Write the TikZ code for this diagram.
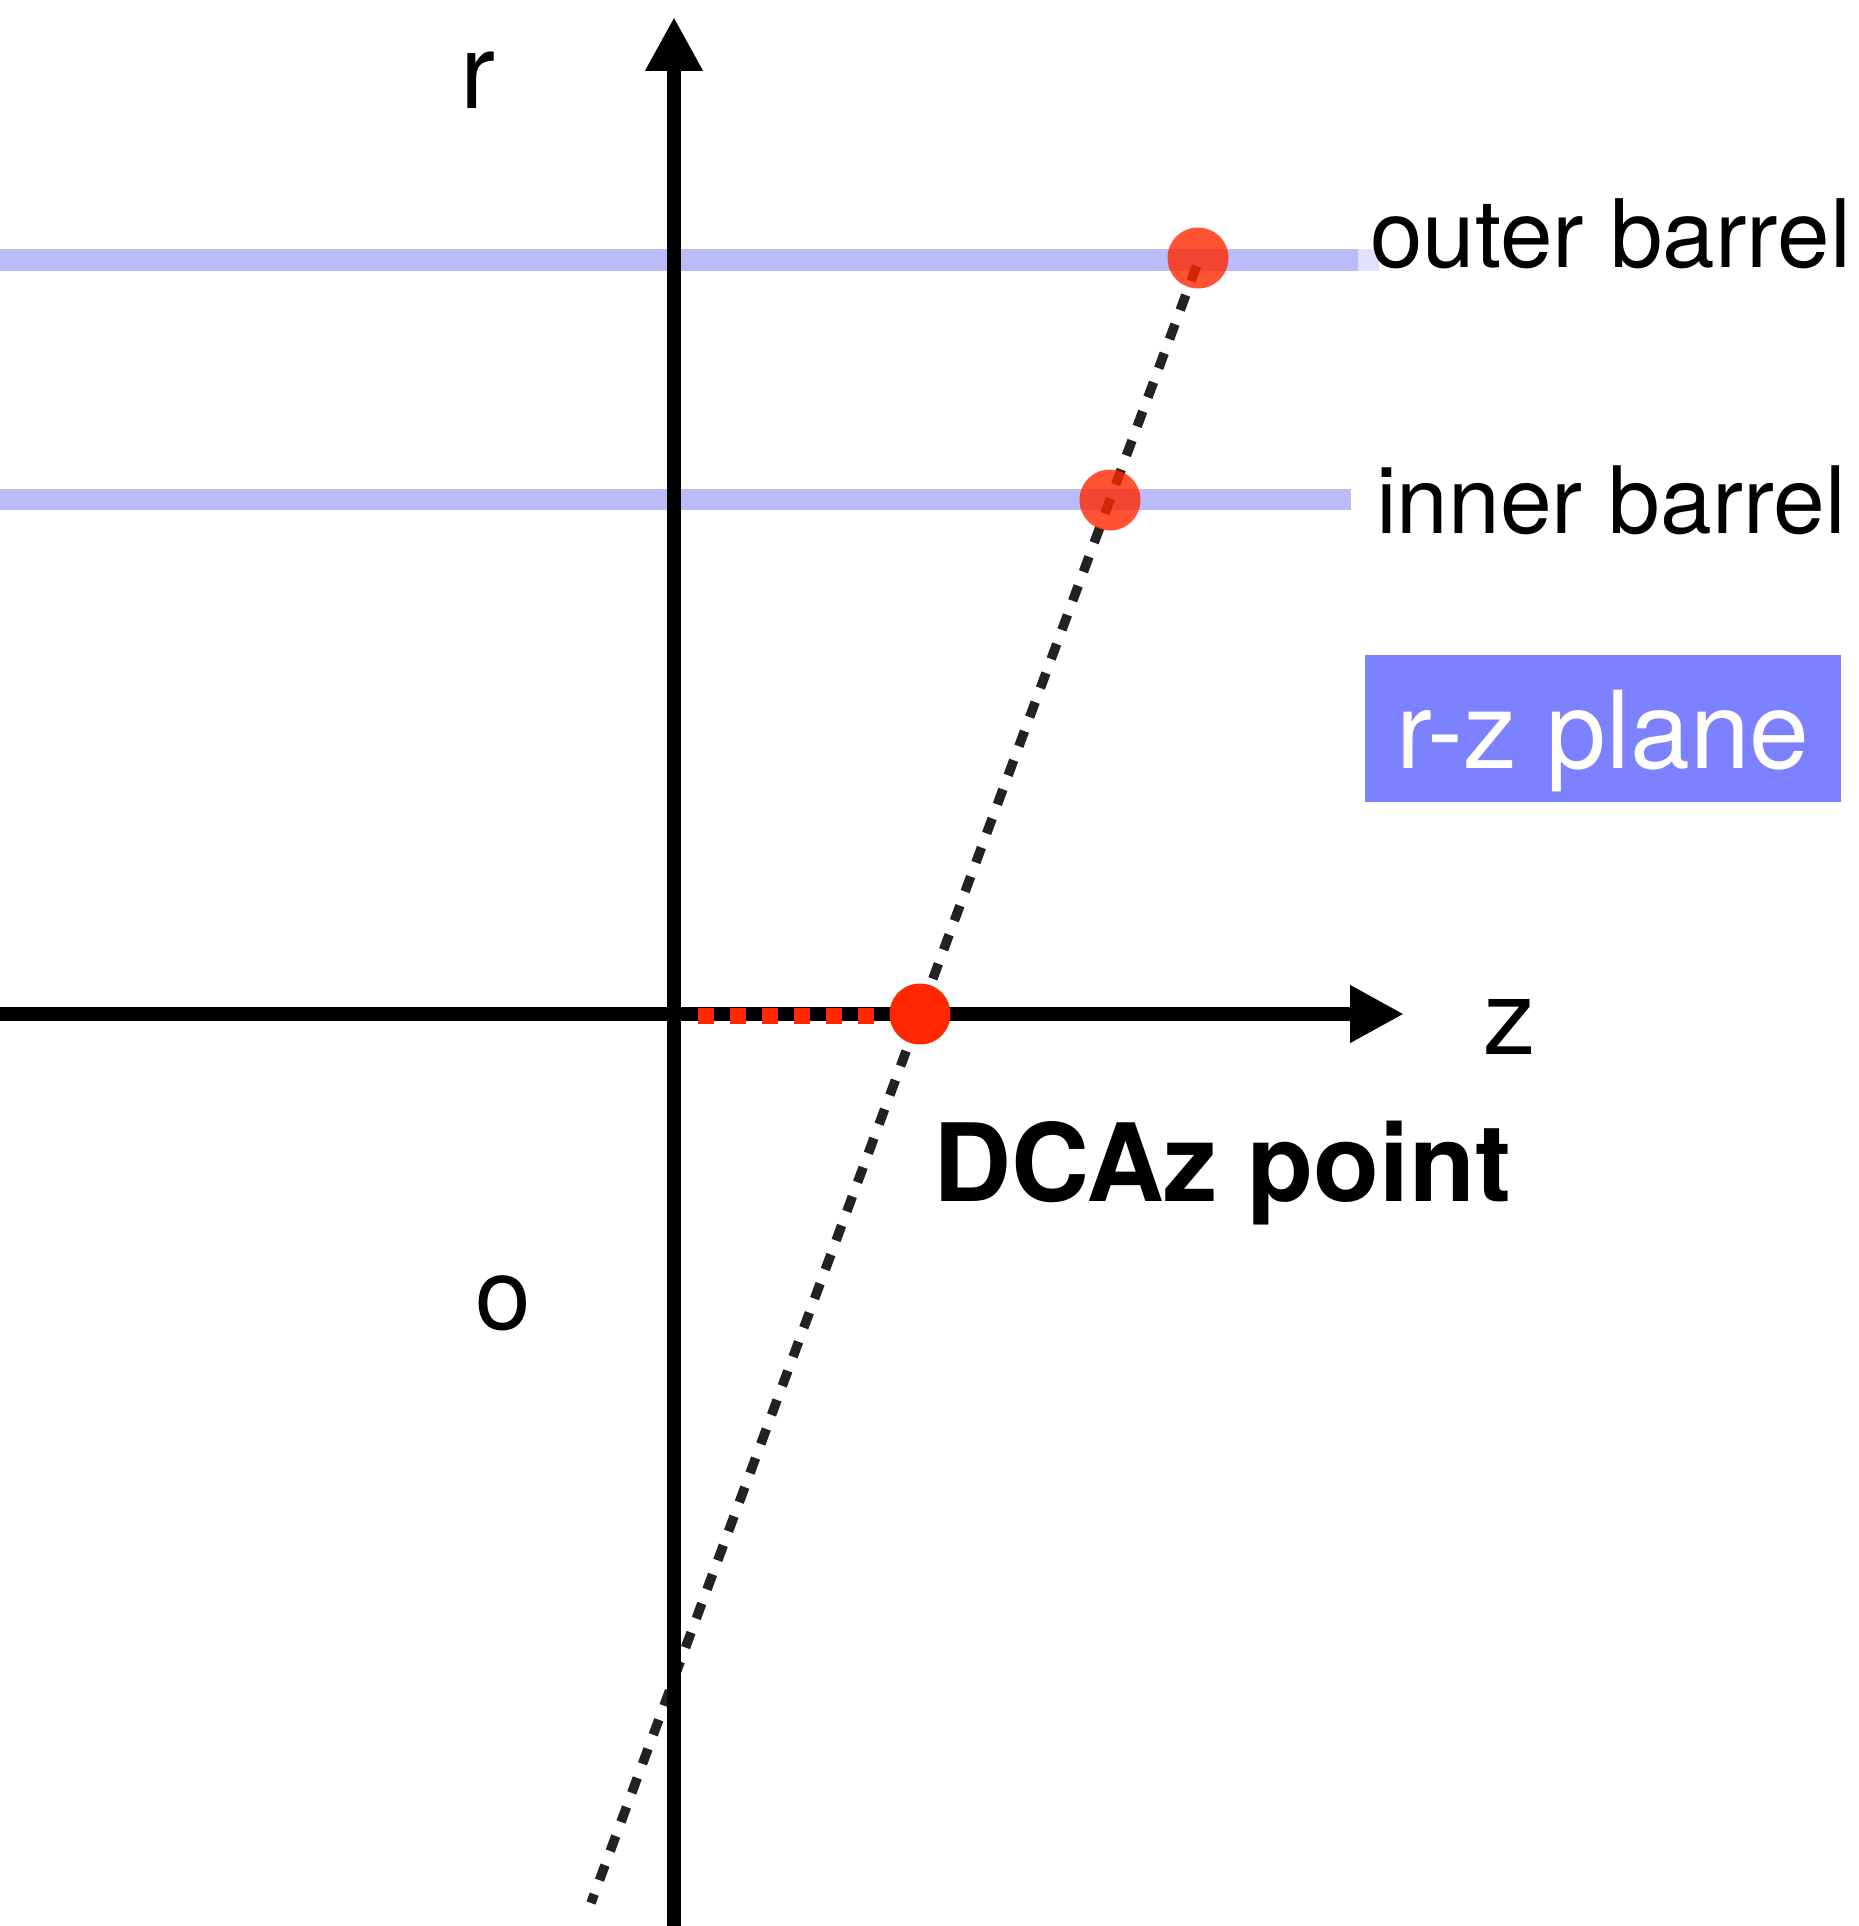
\documentclass[tikz,border=0pt]{standalone}
\usepackage{fontspec}
\setmainfont{TeX Gyre Heros}
\usetikzlibrary{arrows.meta}
\definecolor{barrelblue}{RGB}{187,187,250}
\definecolor{barrellight}{RGB}{225,225,250}
\definecolor{planeblue}{RGB}{124,130,255}
\definecolor{hitred}{RGB}{255,40,0}
\definecolor{trackgray}{RGB}{34,34,34}
\tikzset{
  barrel/.style={line width=21pt, draw=barrelblue},
  axisline/.style={line width=13.5pt, draw=black, -{Triangle[length=54pt,width=54pt]}},
  track/.style={line width=9.5pt, draw=trackgray, dash pattern=on 16pt off 15pt},
  dcaseg/.style={line width=16pt, draw=hitred, dash pattern=on 15.5pt off 16.5pt},
  hit/.style={circle, fill=hitred, fill opacity=0.8, minimum size=61pt, inner sep=0pt},
  dcahit/.style={circle, fill=hitred, minimum size=61pt, inner sep=0pt},
  lbl/.style={inner sep=0pt, anchor=base west},
  axlbl/.style={inner sep=0pt, anchor=base west, font=\fontsize{105}{120}\selectfont},
}
\begin{document}
\begin{tikzpicture}[x=1pt,y=-1pt]
\useasboundingbox (0,0) rectangle (1858,1926);
% barrels
\coordinate (obL) at (0,260);
\coordinate (obR) at (1358,260);
\coordinate (obX) at (1379,260);
\coordinate (ibL) at (0,499.5);
\coordinate (ibR) at (1351,499.5);
\draw[line width=21pt, draw=barrellight] (obR) -- (obX);
\draw[barrel] (obL) -- (obR);
\draw[barrel] (ibL) -- (ibR);
% hit positions
\coordinate (pout) at (1198,258);
\coordinate (pin) at (1110,500);
\coordinate (pdca) at (920,1014);
% track
\coordinate (trkbot) at (591,1903);
\coordinate (trktop) at (1196.5,266);
\draw[track] (trktop) -- (trkbot);
% axes
\coordinate (rbot) at (674,1926);
\coordinate (rtop) at (674,17);
\coordinate (zleft) at (0,1014);
\coordinate (ztip) at (1404,1014);
\draw[axisline] (rbot) -- (rtop);
\draw[axisline] (zleft) -- (ztip);
% DCAz segment
\coordinate (segA) at (698,1016);
\coordinate (segB) at (874,1016);
\draw[dcaseg] (segA) -- (segB);
% hits
\node[hit] (hitout) at (pout) {};
\node[hit] (hitin) at (pin) {};
\node[dcahit] (hitdca) at (pdca) {};
% labels
\node[axlbl] (rlabel) at (460,109) {r};
\node[axlbl] (zlabel) at (1483,1054) {z};
\node[inner sep=0pt, anchor=base west, font=\fontsize{100}{120}\selectfont] (olabel) at (475,1329) {o};
\node[lbl, font=\fontsize{94.5}{110}\selectfont] (outerlbl) at (1370,267) {outer barrel};
\node[lbl, font=\fontsize{93}{110}\selectfont] (innerlbl) at (1376,533) {inner barrel};
\node[inner sep=0pt, anchor=base west, font=\fontsize{108}{120}\selectfont\bfseries] (dcalbl) at (933,1201) {DCAz point};
\node[fill=planeblue, text=white, minimum width=476pt, minimum height=147pt, inner sep=0pt,
      text height=100pt, text depth=21pt, font=\fontsize{107.5}{120}\selectfont] (plane) at (1603,728.5) {r-z plane};
\end{tikzpicture}
\end{document}
